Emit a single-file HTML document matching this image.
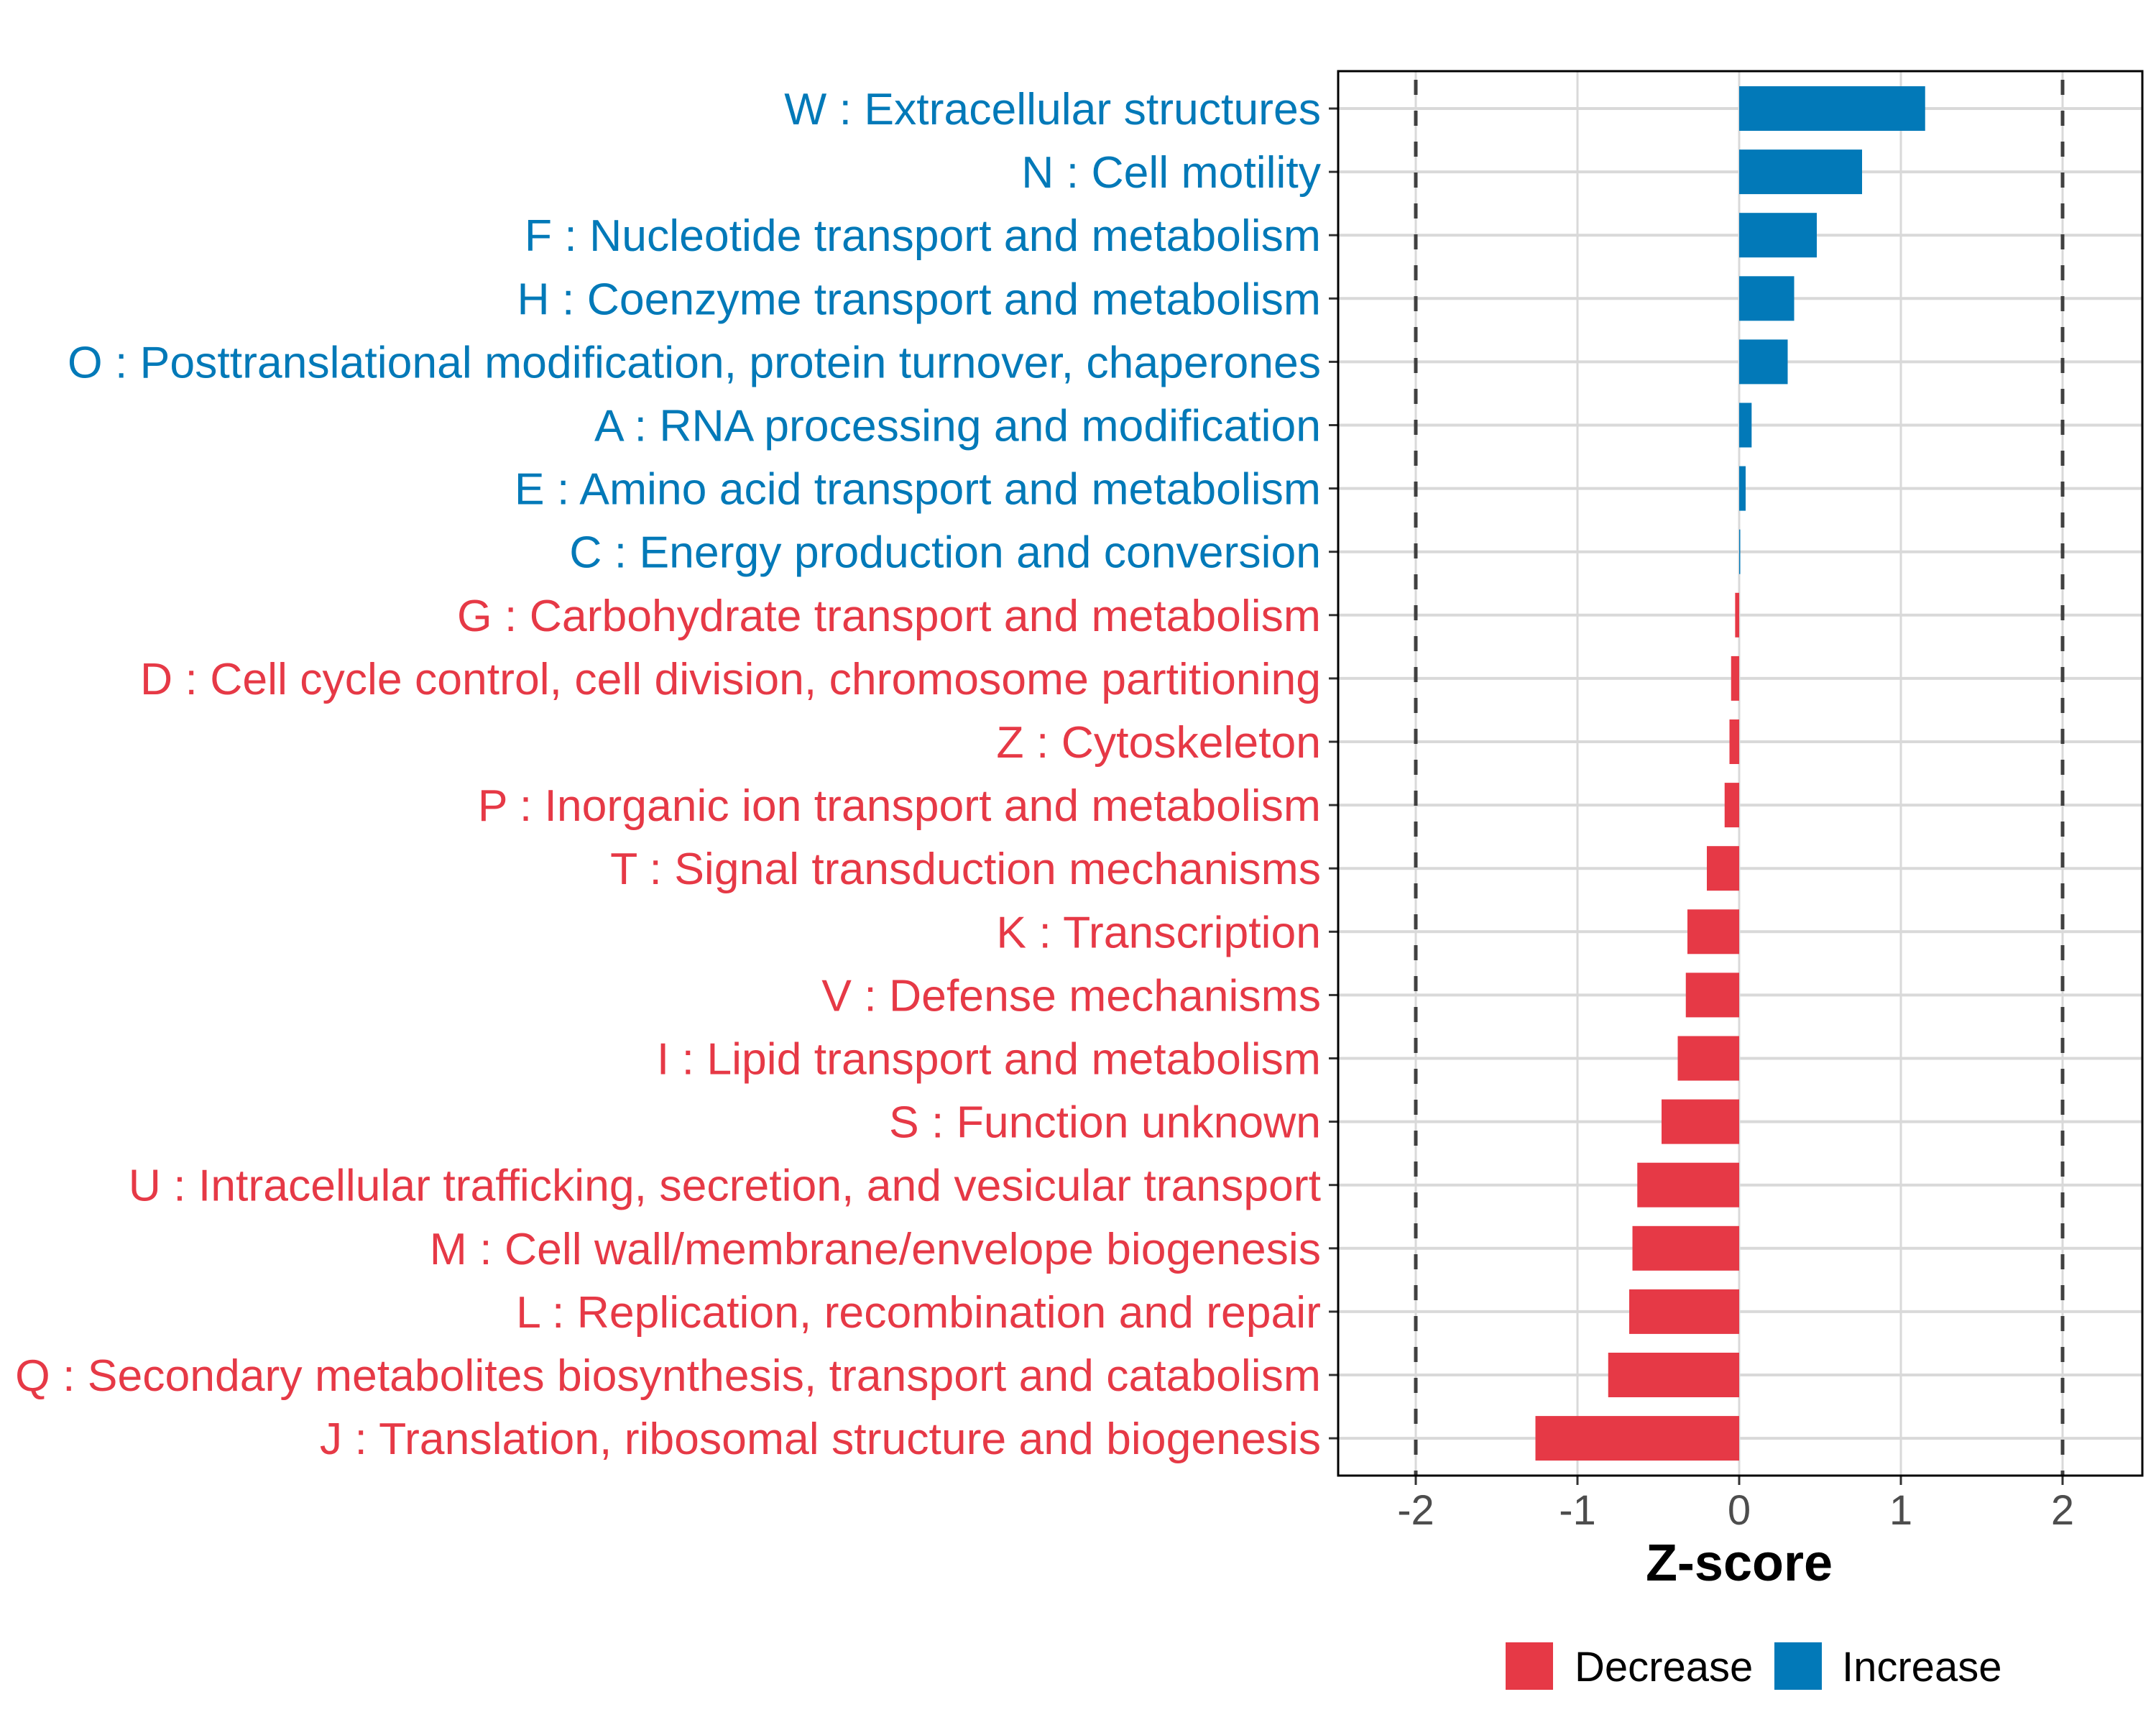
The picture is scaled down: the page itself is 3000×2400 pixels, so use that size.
<!DOCTYPE html>
<html><head><meta charset="utf-8"><style>
html,body{margin:0;padding:0;background:#fff;}
svg{display:block;font-family:"Liberation Sans",Arial,sans-serif;}
</style></head><body>
<svg id="chart" width="3000" height="2400" viewBox="0 0 3000 2400" xmlns="http://www.w3.org/2000/svg">
<rect x="0" y="0" width="3000" height="2400" fill="#fff"/>
<g id="grid"></g><g id="bars"></g><g id="dash"></g><g id="axes"></g><g id="labels"></g>
<text x="2420" y="2199" text-anchor="middle" font-size="72" font-weight="bold" fill="#000">Z-score</text>
<g>
<rect x="2095" y="2285" width="66" height="66" fill="#E63946"/>
<text x="2191" y="2339" font-size="58" fill="#000">Decrease</text>
<rect x="2469" y="2285" width="66" height="66" fill="#0279B8"/>
<text x="2563" y="2339" font-size="58" fill="#000">Increase</text>
</g>
</svg>
<script>
const categories = ["W : Extracellular structures","N : Cell motility","F : Nucleotide transport and metabolism","H : Coenzyme transport and metabolism","O : Posttranslational modification, protein turnover, chaperones","A : RNA processing and modification","E : Amino acid transport and metabolism","C : Energy production and conversion","G : Carbohydrate transport and metabolism","D : Cell cycle control, cell division, chromosome partitioning","Z : Cytoskeleton","P : Inorganic ion transport and metabolism","T : Signal transduction mechanisms","K : Transcription","V : Defense mechanisms","I : Lipid transport and metabolism","S : Function unknown","U : Intracellular trafficking, secretion, and vesicular transport","M : Cell wall/membrane/envelope biogenesis","L : Replication, recombination and repair","Q : Secondary metabolites biosynthesis, transport and catabolism","J : Translation, ribosomal structure and biogenesis"];
const zscores = [1.15,0.76,0.48,0.34,0.30,0.077,0.04,0.006,-0.025,-0.05,-0.06,-0.09,-0.2,-0.32,-0.33,-0.38,-0.48,-0.63,-0.66,-0.68,-0.81,-1.26];
const xTicks = [-2,-1,0,1,2];
const xTickLabels = ["-2","-1","0","1","2"];
const thresholds = [-2,2];

const NS="http://www.w3.org/2000/svg";
const L=1862,R=2981,T=99,B=2053,X0=2420,U=225,Y0=151,STEP=88.1,BH=62;
const xs=v=>X0+v*U, ys=i=>Y0+i*STEP;
const BLUE="#0279B8",RED="#E63946";
function mk(p,tag,at){const e=document.createElementNS(NS,tag);for(const k in at)e.setAttribute(k,at[k]);p.appendChild(e);return e;}
const grid=document.getElementById('grid'),bars=document.getElementById('bars'),dash=document.getElementById('dash'),axes=document.getElementById('axes'),labels=document.getElementById('labels');
mk(grid,'rect',{x:L,y:T,width:R-L,height:B-T,fill:'#fff'});
xTicks.forEach((t,i)=>{
  const g=mk(grid,'line',{x1:xs(t),x2:xs(t),y1:T,y2:B,stroke:'#d9d9d9','stroke-width':3});
  
  
  const tk=mk(axes,'line',{x1:xs(t),x2:xs(t),y1:B,y2:B+13,stroke:'#333','stroke-width':3});
  
  
  const tl=mk(axes,'text',{x:xs(t),y:2121,'text-anchor':'middle','font-size':58,fill:'#4d4d4d'});
  tl.textContent=xTickLabels[i];
  
  
});
categories.forEach((c,i)=>{
  const y=ys(i);
  const g=mk(grid,'line',{x1:L,x2:R,y1:y,y2:y,stroke:'#d9d9d9','stroke-width':4});
  
  
  const v=zscores[i];
  const x1=Math.min(xs(0),xs(v)),w=Math.max(Math.abs(xs(v)-xs(0)),1.5);
  const b=mk(bars,'rect',{x:x1,y:y-BH/2,width:w,height:BH,fill:v>=0?BLUE:RED});
  
  
  const tk=mk(axes,'line',{x1:L-13,x2:L,y1:y,y2:y,stroke:'#333','stroke-width':3});
  
  
  const tl=mk(labels,'text',{x:1838,y:y+22,'text-anchor':'end','font-size':62.5,fill:v>=0?BLUE:RED});
  tl.textContent=c;
  
  
});
thresholds.forEach(t=>{
  const d=mk(dash,'line',{x1:xs(t),x2:xs(t),y1:T,y2:B,stroke:'#404040','stroke-width':5,'stroke-dasharray':'21,22','stroke-dashoffset':'-12'});
  
  
});
const bd=mk(axes,'rect',{x:L,y:T,width:R-L,height:B-T,fill:'none',stroke:'#000','stroke-width':3});


</script>
</body></html>
